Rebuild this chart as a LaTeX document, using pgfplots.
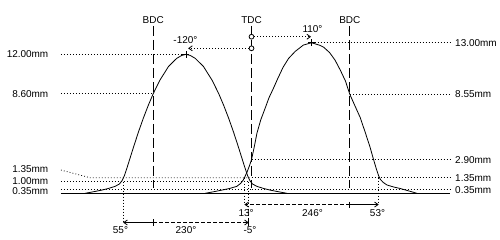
\documentclass[border=0pt]{standalone}
\usepackage{pgfplots}
\pgfplotsset{compat=1.18}
\usepackage{fontspec}
\setmainfont{Liberation Sans}
\usetikzlibrary{arrows.meta}
\pgfplotstableread{
deg mm
-305 0
-290 0.13
-275 0.27
-262 0.42
-250 0.6
-242 0.8
-237 1.1
-233 1.5
-228 2.2
-222 3.1
-216 4.0
-207 5.3
-198 6.5
-189 7.6
-180 8.6
-168 9.75
-152 10.95
-137 11.65
-128 11.9
-120 12.0
-112 11.9
-103 11.65
-88 10.95
-72 9.75
-60 8.6
-51 7.6
-42 6.5
-33 5.3
-24 4.0
-18 3.1
-12 2.2
-7 1.5
-3 1.1
2 0.8
10 0.6
22 0.42
35 0.27
50 0.13
65 0
}\exhaust
\pgfplotstableread{
deg mm
-85 0
-70 0.13
-55 0.27
-40 0.42
-27 0.6
-20 0.85
-15 1.15
-12 1.45
-8 1.85
-4 2.35
0 2.9
5 4.0
10 5.2
17 6.35
25 7.35
32 8.25
40 9.05
48 9.9
58 10.9
68 11.65
80 12.25
95 12.8
110 13.0
125 12.78
132 12.62
143 12.15
153 11.5
163 10.6
172 9.7
180 8.55
189 7.6
199 6.55
208 5.3
217 4.0
223 3.0
229 2.05
233 1.5
236 1.2
241 0.95
248 0.72
260 0.55
272 0.42
287 0.22
303 0
}\intake
\begin{document}
\fontsize{10}{12}\selectfont
\begin{tikzpicture}[
  dots/.style={line width=0.8bp, dash pattern=on 0.8bp off 2.2bp},
  vdash/.style={line width=0.9bp, dash pattern=on 10bp off 4bp},
  adash/.style={line width=0.8bp, dash pattern=on 4bp off 2bp},
  lbl/.style={font=\fontsize{10}{12}\selectfont, inner sep=0pt},
  ar/.style={-{Straight Barb[length=3.5bp,width=5bp]}}
]
\begin{axis}[scale only axis, width=500bp, height=240bp,
  xmin=-460.6, xmax=455.1, ymin=-4.03, ymax=16.69,
  axis lines=none, clip=false]
\path (rel axis cs:0,0) rectangle (rel axis cs:1,1);
% reference dotted lines, left
\draw[dots] (axis cs:-349,12) -- (axis cs:-120,12);
\draw[dots] (axis cs:-349,8.6) -- (axis cs:-180,8.6);
\draw[dots] (axis cs:-349,2.01) -- (axis cs:-296,1.35) -- (axis cs:0,1.35);
\draw[dots] (axis cs:-349,1.0) -- (axis cs:0,1.0);
\draw[dots] (axis cs:-349,0.35) -- (axis cs:0,0.35);
% right
\draw[dots] (axis cs:110,13) -- (axis cs:363.6,13);
\draw[dots] (axis cs:180,8.55) -- (axis cs:363.6,8.55);
\draw[dots] (axis cs:0,2.9) -- (axis cs:363.6,2.9);
\draw[dots] (axis cs:0,1.35) -- (axis cs:363.6,1.35);
\draw[dots] (axis cs:0,0.35) -- (axis cs:363.6,0.35);
% labels
\node[lbl, anchor=east] at (axis cs:-371.8,12.03) {12.00mm};
\node[lbl, anchor=east] at (axis cs:-371.8,8.57) {8.60mm};
\node[lbl, anchor=east] at (axis cs:-371.8,2.1) {1.35mm};
\node[lbl, anchor=east] at (axis cs:-371.8,1.1) {1.00mm};
\node[lbl, anchor=east] at (axis cs:-371.8,0.2) {0.35mm};
\node[lbl, anchor=west] at (axis cs:372.7,13.0) {13.00mm};
\node[lbl, anchor=west] at (axis cs:372.7,8.57) {8.55mm};
\node[lbl, anchor=west] at (axis cs:372.7,2.88) {2.90mm};
\node[lbl, anchor=west] at (axis cs:372.7,1.32) {1.35mm};
\node[lbl, anchor=west] at (axis cs:372.7,0.3) {0.35mm};
% baseline
\draw[line width=1bp] (axis cs:-349,0) -- (axis cs:363.6,0);
% BDC / TDC
\draw[vdash] (axis cs:-180,14.45) -- (axis cs:-180,0.43);
\draw[vdash] (axis cs:0,14.45) -- (axis cs:0,0.43);
\draw[vdash] (axis cs:180,14.45) -- (axis cs:180,0.43);
\node[lbl] at (axis cs:-180,14.97) {BDC};
\node[lbl] at (axis cs:0,14.97) {TDC};
\node[lbl] at (axis cs:180,14.97) {BDC};
% curves
\addplot[black, line width=0.8bp, mark=none] table[x=deg, y=mm] {\exhaust};
\addplot[black, line width=0.8bp, mark=none] table[x=deg, y=mm] {\intake};
\addplot[black, only marks, mark=+, mark size=3.5bp, mark options={line width=0.8bp}] coordinates {(-120,12.0) (110,13.0)};
% peak arrows
\draw[line width=0.8bp, fill=white] (axis cs:0,13.52) circle[radius=2.4bp];
\draw[line width=0.8bp, fill=white] (axis cs:0,12.52) circle[radius=2.4bp];
\draw[dots, ar] (axis cs:5,13.52) -- (axis cs:109,13.52);
\draw[dots, ar] (axis cs:-5,12.52) -- (axis cs:-116,12.52);
\node[lbl] at (axis cs:-121,13.25) {-120°};
\node[lbl] at (axis cs:111.7,14.19) {110°};
% event verticals
\draw[dots] (axis cs:-235,1.0) -- (axis cs:-235,-2.4);
\draw[dots] (axis cs:-5,1.0) -- (axis cs:-5,-2.4);
\draw[dots] (axis cs:-13,1.35) -- (axis cs:-13,-0.85);
\draw[dots] (axis cs:233,1.35) -- (axis cs:233,-0.85);
% intake duration arrow
\draw[adash, ar] (axis cs:180,-0.97) -- (axis cs:-13,-0.97);
\draw[line width=0.8bp, ar] (axis cs:180,-0.97) -- (axis cs:233,-0.97);
\draw[line width=0.8bp] (axis cs:180,-0.71) -- (axis cs:180,-1.23);
\node[lbl] at (axis cs:-10,-1.72) {13°};
\node[lbl] at (axis cs:111.7,-1.72) {246°};
\node[lbl] at (axis cs:230.8,-1.72) {53°};
% exhaust duration arrow
\draw[line width=0.8bp, ar] (axis cs:-180,-2.52) -- (axis cs:-235,-2.52);
\draw[adash, ar] (axis cs:-180,-2.52) -- (axis cs:-5,-2.52);
\draw[line width=0.8bp] (axis cs:-180,-2.26) -- (axis cs:-180,-2.78);
\draw[line width=0.8bp] (axis cs:-5,-2.26) -- (axis cs:-5,-2.78);
\node[lbl] at (axis cs:-240,-3.15) {55°};
\node[lbl] at (axis cs:-120,-3.15) {230°};
\node[lbl] at (axis cs:-2.7,-3.15) {-5°};
\end{axis}
\end{tikzpicture}
\end{document}
